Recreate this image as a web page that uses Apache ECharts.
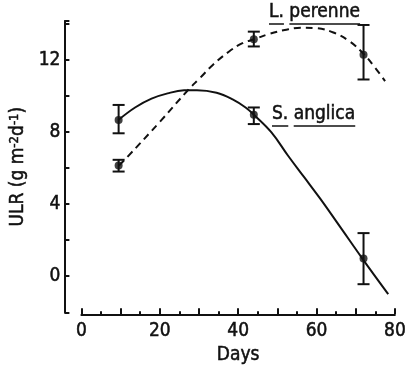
<!DOCTYPE html>
<html>
<head>
<meta charset="utf-8">
<script src="https://cdn.jsdelivr.net/npm/echarts@6/dist/echarts.min.js"></script>
<style>
  html, body { margin: 0; background: #fff; }
  #chart { width: 409px; height: 370px; }
</style>
</head>
<body>
<div id="chart"></div>
<script>
  // measured points (days, mean, error bar ends)
  const days = [9.5, 44, 72];
  const anglicaMean = [8.65, 8.95, 0.98];
  const anglicaLow = [7.92, 8.43, -0.44];
  const anglicaHigh = [9.49, 9.35, 2.39];
  const perenneMean = [6.14, 13.13, 12.27];
  const perenneLow = [5.8, 12.73, 10.9];
  const perenneHigh = [6.45, 13.55, 13.92];

  // fitted curves
  const anglicaCurveX = [9.4, 13.7, 17.9, 22, 26.2, 29.5, 34.5, 38.6, 41.9, 44, 48.5, 52.7, 56.8, 60.9, 66.3, 71.7, 78.3];
  const anglicaCurveY = [8.65, 9.35, 9.84, 10.13, 10.3, 10.31, 10.17, 9.8, 9.35, 8.95, 7.97, 6.69, 5.5, 4.31, 2.65, 0.98, -0.99];
  const perenneCurveX = [9.6, 11.7, 20, 27, 30.3, 33.6, 37.7, 41.1, 44.4, 47.7, 51.9, 56, 60.1, 64.3, 68.4, 72.1, 75, 77.5];
  const perenneCurveY = [6.14, 6.6, 8.55, 10.26, 10.99, 11.72, 12.45, 12.91, 13.15, 13.41, 13.64, 13.77, 13.74, 13.5, 13.02, 12.3, 11.54, 10.81];

  const xLabels = [0, 20, 40, 60, 80];
  const yLabels = [0, 4, 8, 12];

  const FONT = '"DejaVu Sans Condensed", "Liberation Sans Narrow", sans-serif';
  const INK = '#111';
  const TEXT = { fontFamily: FONT, fontSize: 19, color: INK, textBorderColor: INK, textBorderWidth: 0.5 };

  const zip = (a, b) => a.map((v, i) => [v, b[i]]);
  const bars = (lo, hi) => days.map((d, i) => [d, lo[i], hi[i]]);

  function errorBar(params, api) {
    const x = api.value(0);
    const top = api.coord([x, api.value(2)]);
    const bot = api.coord([x, api.value(1)]);
    const hw = 6;
    const st = { stroke: INK, lineWidth: 2 };
    return {
      type: 'group',
      children: [
        { type: 'line', shape: { x1: top[0], y1: top[1], x2: bot[0], y2: bot[1] }, style: st },
        { type: 'line', shape: { x1: top[0] - hw, y1: top[1], x2: top[0] + hw, y2: top[1] }, style: st },
        { type: 'line', shape: { x1: bot[0] - hw, y1: bot[1], x2: bot[0] + hw, y2: bot[1] }, style: st }
      ]
    };
  }

  const chart = echarts.init(document.getElementById('chart'));

  chart.setOption({
    animation: false,
    grid: { left: 78, right: 9, top: 21, bottom: 55 },
    xAxis: {
      type: 'value',
      min: 0,
      max: 80,
      interval: 10,
      offset: 2,
      name: 'Days',
      nameLocation: 'middle',
      nameGap: 29,
      nameTextStyle: TEXT,
      axisLine: { show: true, onZero: false, lineStyle: { color: INK, width: 2 } },
      axisTick: { show: true, inside: true, length: 6, lineStyle: { color: INK, width: 2 } },
      minorTick: { show: true, splitNumber: 2, length: 3, lineStyle: { color: INK, width: 2 } },
      axisLabel: Object.assign({
        margin: 7,
        formatter: v => xLabels.includes(v) ? String(v) : ''
      }, TEXT),
      splitLine: { show: false }
    },
    yAxis: {
      type: 'value',
      min: -2,
      max: 14.14,
      interval: 2,
      offset: 17,
      name: 'ULR (g m{sup|-2}d{sup|-1})',
      nameLocation: 'middle',
      nameGap: 20,
      nameTextStyle: Object.assign({
        rich: { sup: Object.assign({}, TEXT, { fontSize: 13, verticalAlign: 'top' }) }
      }, TEXT),
      axisLine: { show: true, onZero: false, lineStyle: { color: INK, width: 2 } },
      axisTick: { show: true, inside: true, length: 5, lineStyle: { color: INK, width: 2 } },
      axisLabel: Object.assign({
        margin: 4,
        formatter: v => yLabels.includes(v) ? String(v) : ''
      }, TEXT),
      splitLine: { show: false }
    },
    series: [
      {
        name: 'S. anglica curve', type: 'line', data: zip(anglicaCurveX, anglicaCurveY),
        showSymbol: false, smooth: 0.4, lineStyle: { color: INK, width: 2 }
      },
      {
        name: 'L. perenne curve', type: 'line', data: zip(perenneCurveX, perenneCurveY),
        showSymbol: false, smooth: 0.4, lineStyle: { color: INK, width: 2, type: [7, 5] }
      },
      { type: 'custom', renderItem: errorBar, data: bars(anglicaLow, anglicaHigh), z: 3 },
      { type: 'custom', renderItem: errorBar, data: bars(perenneLow, perenneHigh), z: 3 },
      {
        type: 'scatter', data: zip(days, anglicaMean), symbol: 'circle', symbolSize: 8,
        itemStyle: { color: INK }, z: 4
      },
      {
        type: 'scatter', data: zip(days, perenneMean), symbol: 'circle', symbolSize: 8,
        itemStyle: { color: INK }, z: 4
      }
    ]
  });

  // underlined species names
  const ctx = document.createElement('canvas').getContext('2d');
  const LABEL_FONT = '19px ' + FONT;
  ctx.font = LABEL_FONT;
  const w = t => ctx.measureText(t).width;

  function speciesLabel(genus, epithet, x, y) {
    const full = genus + ' ' + epithet;
    const uy = y + 21;
    const st = { stroke: INK, lineWidth: 1.5 };
    return [
      { type: 'text', x: x, y: y, style: { text: full, font: LABEL_FONT, fill: INK, stroke: INK, lineWidth: 0.5 } },
      { type: 'line', shape: { x1: x, y1: uy, x2: x + w(genus), y2: uy }, style: st },
      { type: 'line', shape: { x1: x + w(genus + ' '), y1: uy, x2: x + w(full), y2: uy }, style: st }
    ];
  }

  chart.setOption({
    graphic: [].concat(
      speciesLabel('L.', 'perenne', 269, 3),
      speciesLabel('S.', 'anglica', 272, 105)
    )
  });
</script>
</body>
</html>
